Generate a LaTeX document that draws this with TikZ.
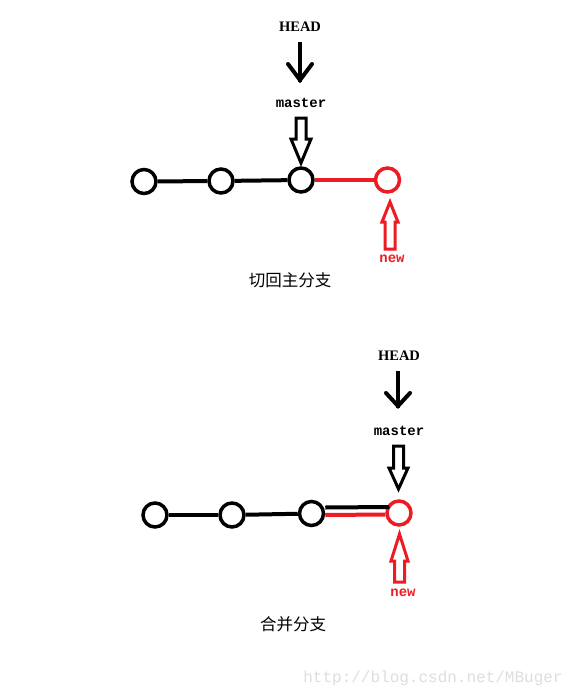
\documentclass[tikz,border=0pt]{standalone}
\usepackage{fontspec}
\newfontfamily\cjk{Noto Sans CJK SC}
\newfontfamily\monofam{Liberation Mono}
\newfontfamily\seriffam{Liberation Serif}
\definecolor{gitred}{RGB}{237,28,36}
\definecolor{wmgray}{RGB}{222,222,222}
\begin{document}
\begin{tikzpicture}[x=1pt,y=-1pt,
  commit/.style={circle,draw=black,line width=3.5pt,minimum size=24pt,inner sep=0pt,fill=white},
  newcommit/.style={commit,draw=gitred},
  link/.style={line width=4pt,black},
  redlink/.style={line width=4pt,gitred},
  headlbl/.style={font=\seriffam\bfseries\fontsize{14.5}{14.5}\selectfont,inner sep=0pt},
  branchlbl/.style={font=\monofam\bfseries\fontsize{14}{14}\selectfont,inner sep=0pt},
  newlbl/.style={branchlbl,text=gitred},
  caption/.style={font=\cjk\fontsize{16.5}{16.5}\selectfont,inner sep=0pt},
  ptr/.style={line width=4pt,black},
  block/.style={line width=3pt,line join=miter,fill=white},
]
\fill[white] (0,0) rectangle (586,696);
\useasboundingbox (0,0) rectangle (586,696);

% ---------- top diagram ----------
\node[headlbl] (head1) at (300,27) {HEAD};
\node[branchlbl] (master1) at (301,103) {master};
\draw[ptr] (300,42) -- (300,82);
\draw[ptr,line cap=round,line join=miter] (288,64) -- (300,80) -- (312,64);
\draw[block,draw=black] (296,118) -- (306,118) -- (306,139) -- (311,139) -- (301,163) -- (291,139) -- (296,139) -- cycle;

\node[commit] (a1) at (144,181.5) {};
\node[commit] (b1) at (221,181) {};
\node[commit] (c1) at (301,180) {};
\node[newcommit] (n1) at (387.5,180) {};
\draw[link] (a1) -- (b1);
\draw[link] (b1) -- (c1);
\draw[redlink] (c1) -- (n1);

\draw[block,draw=gitred] (390,202) -- (398,222) -- (395,222) -- (395,249) -- (385,249) -- (385,222) -- (382,222) -- cycle;
\node[newlbl] (new1) at (392,259) {new};
\node[caption] (cap1) at (290,280) {切回主分支};

% ---------- bottom diagram ----------
\node[headlbl] (head2) at (399,356) {HEAD};
\node[branchlbl] (master2) at (399,431) {master};
\draw[ptr] (398,371) -- (398,408);
\draw[ptr,line cap=round,line join=miter] (386,393) -- (398,406) -- (410,393);
\draw[block,draw=black] (393.5,446) -- (403.5,446) -- (403.5,468) -- (408,468) -- (398.5,489) -- (389,468) -- (393.5,468) -- cycle;

\node[commit] (a2) at (155,515) {};
\node[commit] (b2) at (232,515) {};
\node[commit] (c2) at (311.5,513.5) {};
\node[newcommit] (n2) at (399,513) {};
\draw[link] (a2) -- (b2);
\draw[link] (b2) -- (c2);
\draw[redlink] ([yshift=-1.5pt]c2.east) -- ([yshift=-1.5pt]n2.west);
\draw[link] ([yshift=6pt]c2.east) -- ([xshift=4pt,yshift=6pt]n2.west);

\draw[block,draw=gitred] (399.5,534) -- (408,561) -- (404.5,561) -- (404.5,582) -- (394.5,582) -- (394.5,561) -- (391,561) -- cycle;
\node[newlbl] (new2) at (403,593) {new};
\node[caption] (cap2) at (293,624) {合并分支};

% ---------- watermark ----------
\node[font=\monofam\fontsize{16}{16}\selectfont,text=wmgray,inner sep=0pt] (wm) at (433,678) {http://blog.csdn.net/MBuger};
\end{tikzpicture}
\end{document}
